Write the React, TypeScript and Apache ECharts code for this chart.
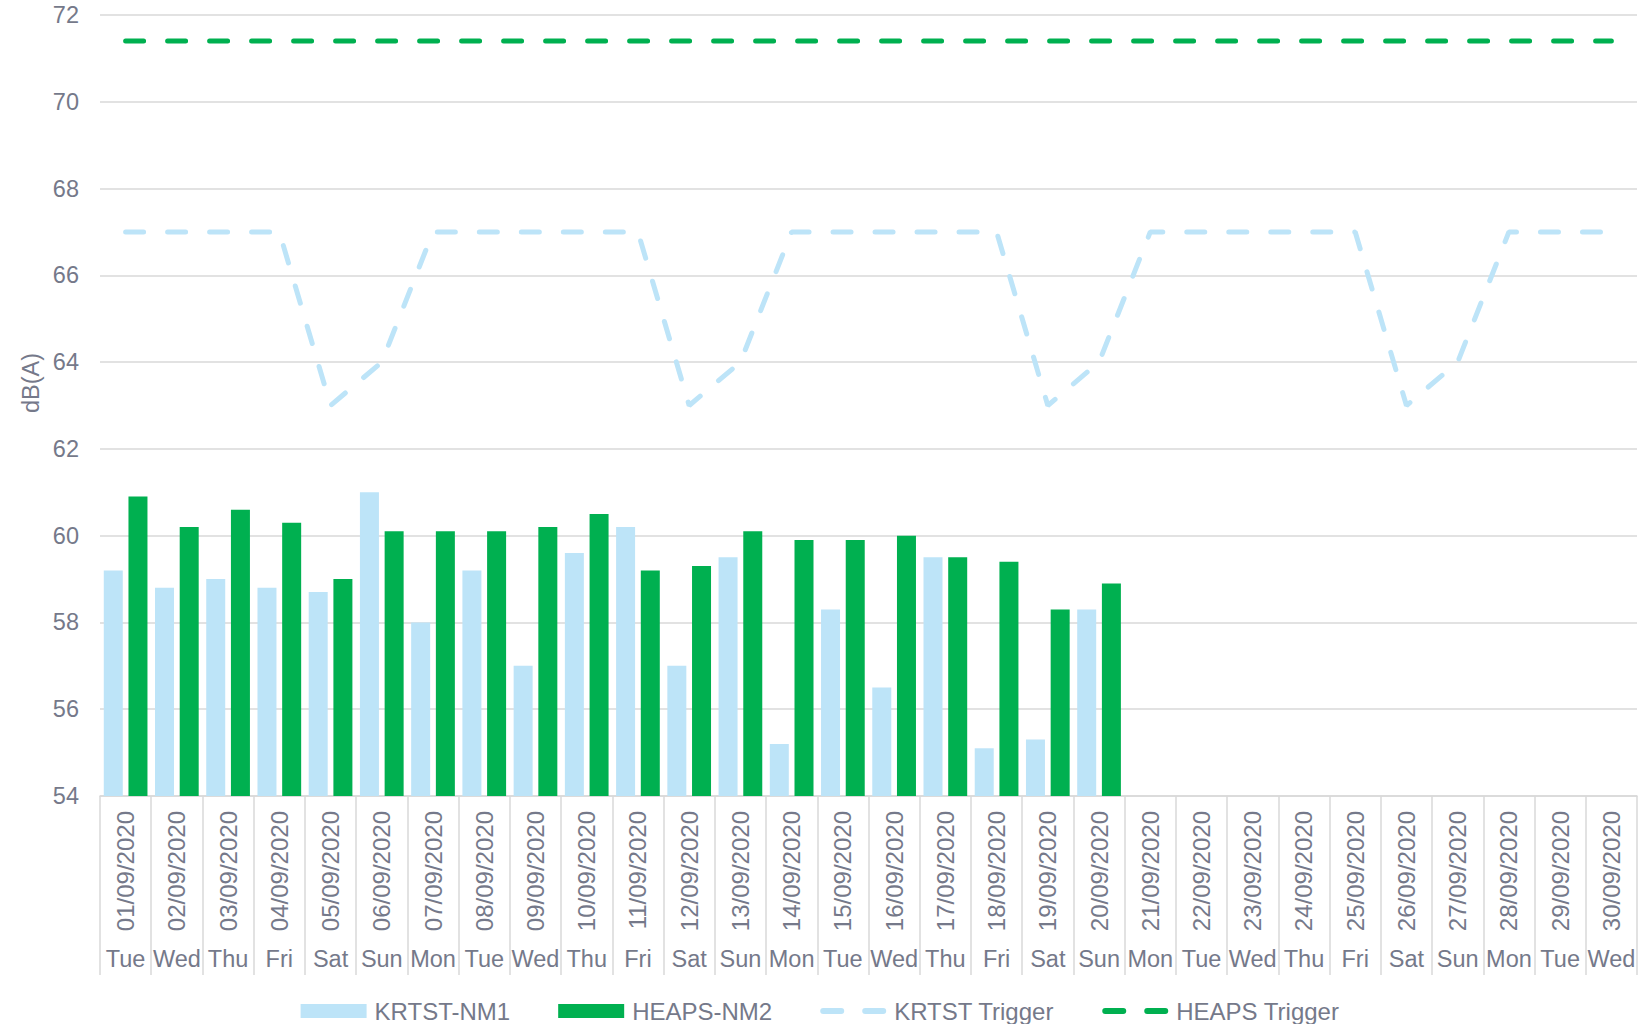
import React, { useEffect, useRef } from "react";
import * as echarts from "echarts";

const dates = [
  "01/09/2020", "02/09/2020", "03/09/2020", "04/09/2020", "05/09/2020", "06/09/2020",
  "07/09/2020", "08/09/2020", "09/09/2020", "10/09/2020", "11/09/2020", "12/09/2020",
  "13/09/2020", "14/09/2020", "15/09/2020", "16/09/2020", "17/09/2020", "18/09/2020",
  "19/09/2020", "20/09/2020", "21/09/2020", "22/09/2020", "23/09/2020", "24/09/2020",
  "25/09/2020", "26/09/2020", "27/09/2020", "28/09/2020", "29/09/2020", "30/09/2020",
];
const weekdays = [
  "Tue", "Wed", "Thu", "Fri", "Sat", "Sun", "Mon", "Tue", "Wed", "Thu", "Fri", "Sat",
  "Sun", "Mon", "Tue", "Wed", "Thu", "Fri", "Sat", "Sun", "Mon", "Tue", "Wed", "Thu",
  "Fri", "Sat", "Sun", "Mon", "Tue", "Wed",
];
const krtstNM1 = [
  59.2, 58.8, 59.0, 58.8, 58.7, 61.0, 58.0, 59.2, 57.0, 59.6, 60.2, 57.0, 59.5, 55.2,
  58.3, 56.5, 59.5, 55.1, 55.3, 58.3,
];
const heapsNM2 = [
  60.9, 60.2, 60.6, 60.3, 59.0, 60.1, 60.1, 60.1, 60.2, 60.5, 59.2, 59.3, 60.1, 59.9,
  59.9, 60.0, 59.5, 59.4, 58.3, 58.9,
];
const krtstTrigger = [
  67, 67, 67, 67, 63, 64, 67, 67, 67, 67, 67, 63, 64, 67, 67, 67, 67, 67, 63, 64, 67,
  67, 67, 67, 67, 63, 64, 67, 67, 67,
];
const heapsTrigger = [
  71.4, 71.4, 71.4, 71.4, 71.4, 71.4, 71.4, 71.4, 71.4, 71.4, 71.4, 71.4, 71.4, 71.4,
  71.4, 71.4, 71.4, 71.4, 71.4, 71.4, 71.4, 71.4, 71.4, 71.4, 71.4, 71.4, 71.4, 71.4,
  71.4, 71.4,
];

const TEXT = "#75798a";
const GRID = "#d9d9d9";
const LIGHT = "#bde4f8";
const GREEN = "#00b050";
const FONT = "Liberation Sans, Arial, sans-serif";
const FS = 23.5;

const DASH_ICON =
  "path://M0,0 L0.01,0 L0,0.01 Z M66,14 L65.99,14 L66,13.99 Z " +
  "M3,4 L21,4 A3,3 0 0 1 21,10 L3,10 A3,3 0 0 1 3,4 Z " +
  "M45,4 L63,4 A3,3 0 0 1 63,10 L45,10 A3,3 0 0 1 45,4 Z";

export default function App() {
  const ref = useRef<HTMLDivElement>(null);
  useEffect(() => {
    document.body.style.margin = "0";
    const chart = echarts.init(ref.current!, undefined, { renderer: "svg" });
    chart.setOption({
      animation: false,
      textStyle: { fontFamily: FONT },
      grid: { left: 100, right: 3, top: 15, bottom: 228, containLabel: false },
      legend: {
        top: 994,
        left: "center",
        itemWidth: 66,
        itemHeight: 14,
        itemGap: 48,
        itemStyle: { borderWidth: 0 },
        textStyle: { fontSize: 24, color: TEXT, fontFamily: FONT, padding: [0, 0, 0, 3] },
        data: [
          { name: "KRTST-NM1", icon: "rect" },
          { name: "HEAPS-NM2", icon: "rect" },
          { name: "KRTST Trigger", icon: DASH_ICON },
          { name: "HEAPS Trigger", icon: DASH_ICON },
        ],
      },
      graphic: [
        {
          type: "text",
          x: 31,
          y: 383,
          rotation: Math.PI / 2,
          style: {
            text: "dB(A)",
            fontSize: FS,
            fontFamily: FONT,
            fill: TEXT,
            align: "center",
            verticalAlign: "middle",
          },
        },
      ],
      xAxis: [
        {
          type: "category",
          data: dates,
          boundaryGap: true,
          axisLine: { show: true, lineStyle: { color: GRID, width: 1.5 } },
          axisTick: { show: false },
          axisLabel: {
            rotate: 90,
            interval: 0,
            margin: 15,
            fontSize: 24,
            color: TEXT,
            fontFamily: FONT,
          },
        },
        {
          type: "category",
          data: weekdays,
          position: "bottom",
          boundaryGap: true,
          axisLine: { show: false },
          axisTick: {
            show: true,
            interval: 0,
            length: 179,
            lineStyle: { color: GRID, width: 1.5 },
          },
          axisLabel: {
            interval: 0,
            margin: 151,
            fontSize: FS,
            color: TEXT,
            fontFamily: FONT,
          },
        },
      ],
      yAxis: {
        type: "value",
        min: 54,
        max: 72,
        interval: 2,
        axisLine: { show: false },
        axisTick: { show: false },
        splitLine: { lineStyle: { color: GRID, width: 1.5 } },
        axisLabel: { fontSize: FS, color: TEXT, margin: 21, fontFamily: FONT },
      },
      series: [
        {
          name: "KRTST-NM1",
          type: "bar",
          data: krtstNM1,
          barWidth: 19,
          barGap: "30%",
          itemStyle: { color: LIGHT },
        },
        {
          name: "HEAPS-NM2",
          type: "bar",
          data: heapsNM2,
          barWidth: 19,
          barGap: "30%",
          itemStyle: { color: GREEN },
        },
        {
          name: "KRTST Trigger",
          type: "line",
          data: krtstTrigger,
          symbol: "none",
          showSymbol: false,
          itemStyle: { color: LIGHT },
          lineStyle: { color: LIGHT, width: 5, type: [18, 24], cap: "round" },
        },
        {
          name: "HEAPS Trigger",
          type: "line",
          data: heapsTrigger,
          symbol: "none",
          showSymbol: false,
          itemStyle: { color: GREEN },
          lineStyle: { color: GREEN, width: 5, type: [18, 24], cap: "round" },
        },
      ],
    });
    return () => chart.dispose();
  }, []);
  return <div ref={ref} style={{ width: 1640, height: 1024 }} />;
}
